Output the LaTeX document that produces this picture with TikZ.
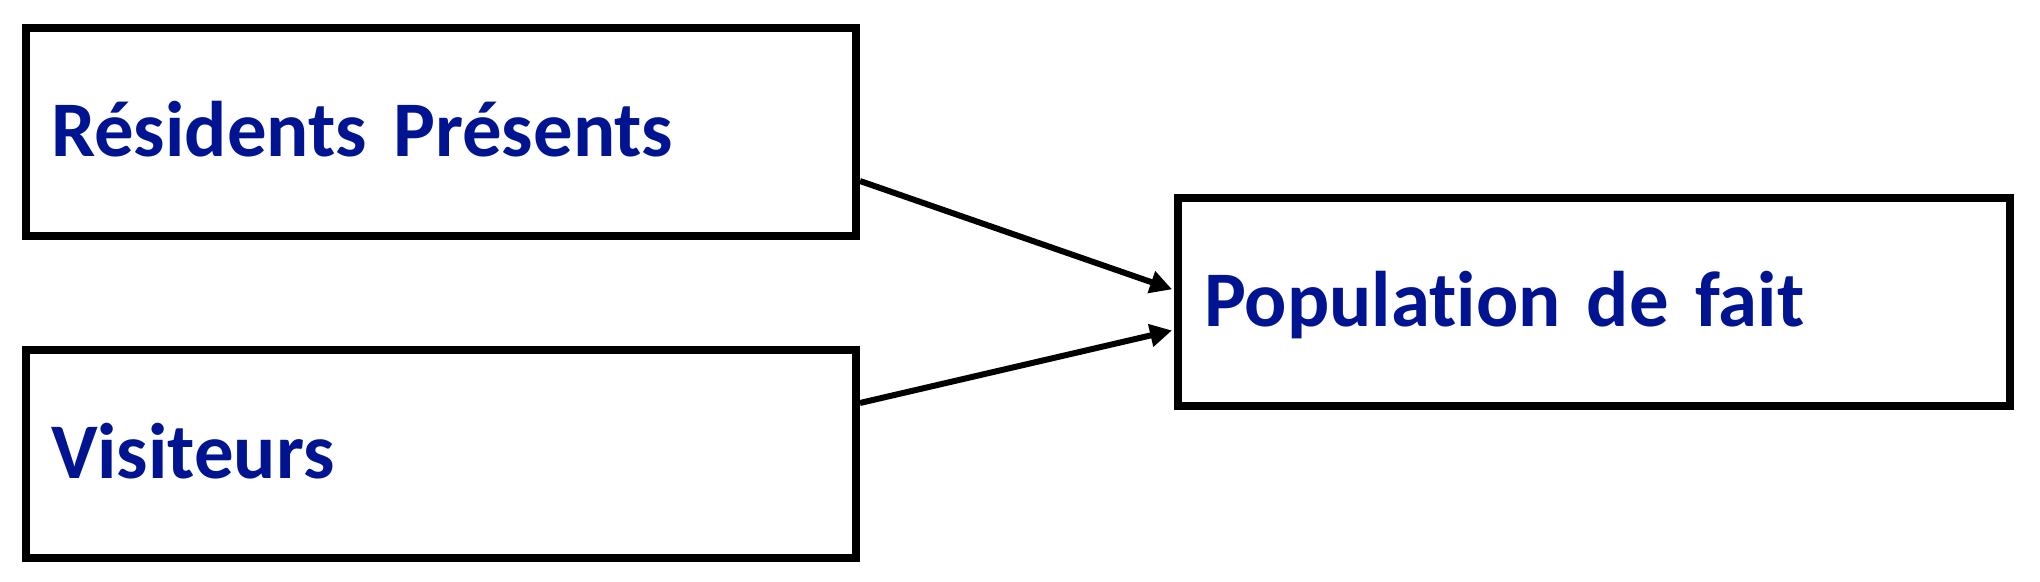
\documentclass[tikz,border=0pt]{standalone}
\usepackage{fontspec}
\setmainfont{Carlito}[Ligatures=NoCommon]
\usetikzlibrary{arrows.meta}
\definecolor{txtblue}{RGB}{0,20,145}
\tikzset{
  box/.style={draw=black, line width=4pt, rectangle, minimum width=415pt, minimum height=104pt,
    text width=390pt, align=left, inner xsep=12.5pt, inner ysep=0pt,
    text height=25pt, text depth=0pt,
    font=\fontsize{39.4pt}{44pt}\selectfont\bfseries, text=txtblue},
  conn/.style={line width=3pt, -{Triangle[length=11pt,width=11pt]}, shorten >=1pt}
}
\begin{document}
\begin{tikzpicture}[x=0.5pt,y=-0.5pt]
\useasboundingbox (0,0) rectangle (2040,582);
\node[box] (b1) at (441,132) {Résidents Présents};
\node[box] (b2) at (441,454) {Visiteurs};
\node[box, minimum width=416pt] (b3) at (1594,302) {Population de fait};
\draw[conn] ([yshift=-24.5pt]b1.east) -- ([yshift=6pt]b3.west);
\draw[conn] ([yshift=25.5pt]b2.east) -- ([yshift=-14pt]b3.west);
\end{tikzpicture}
\end{document}
